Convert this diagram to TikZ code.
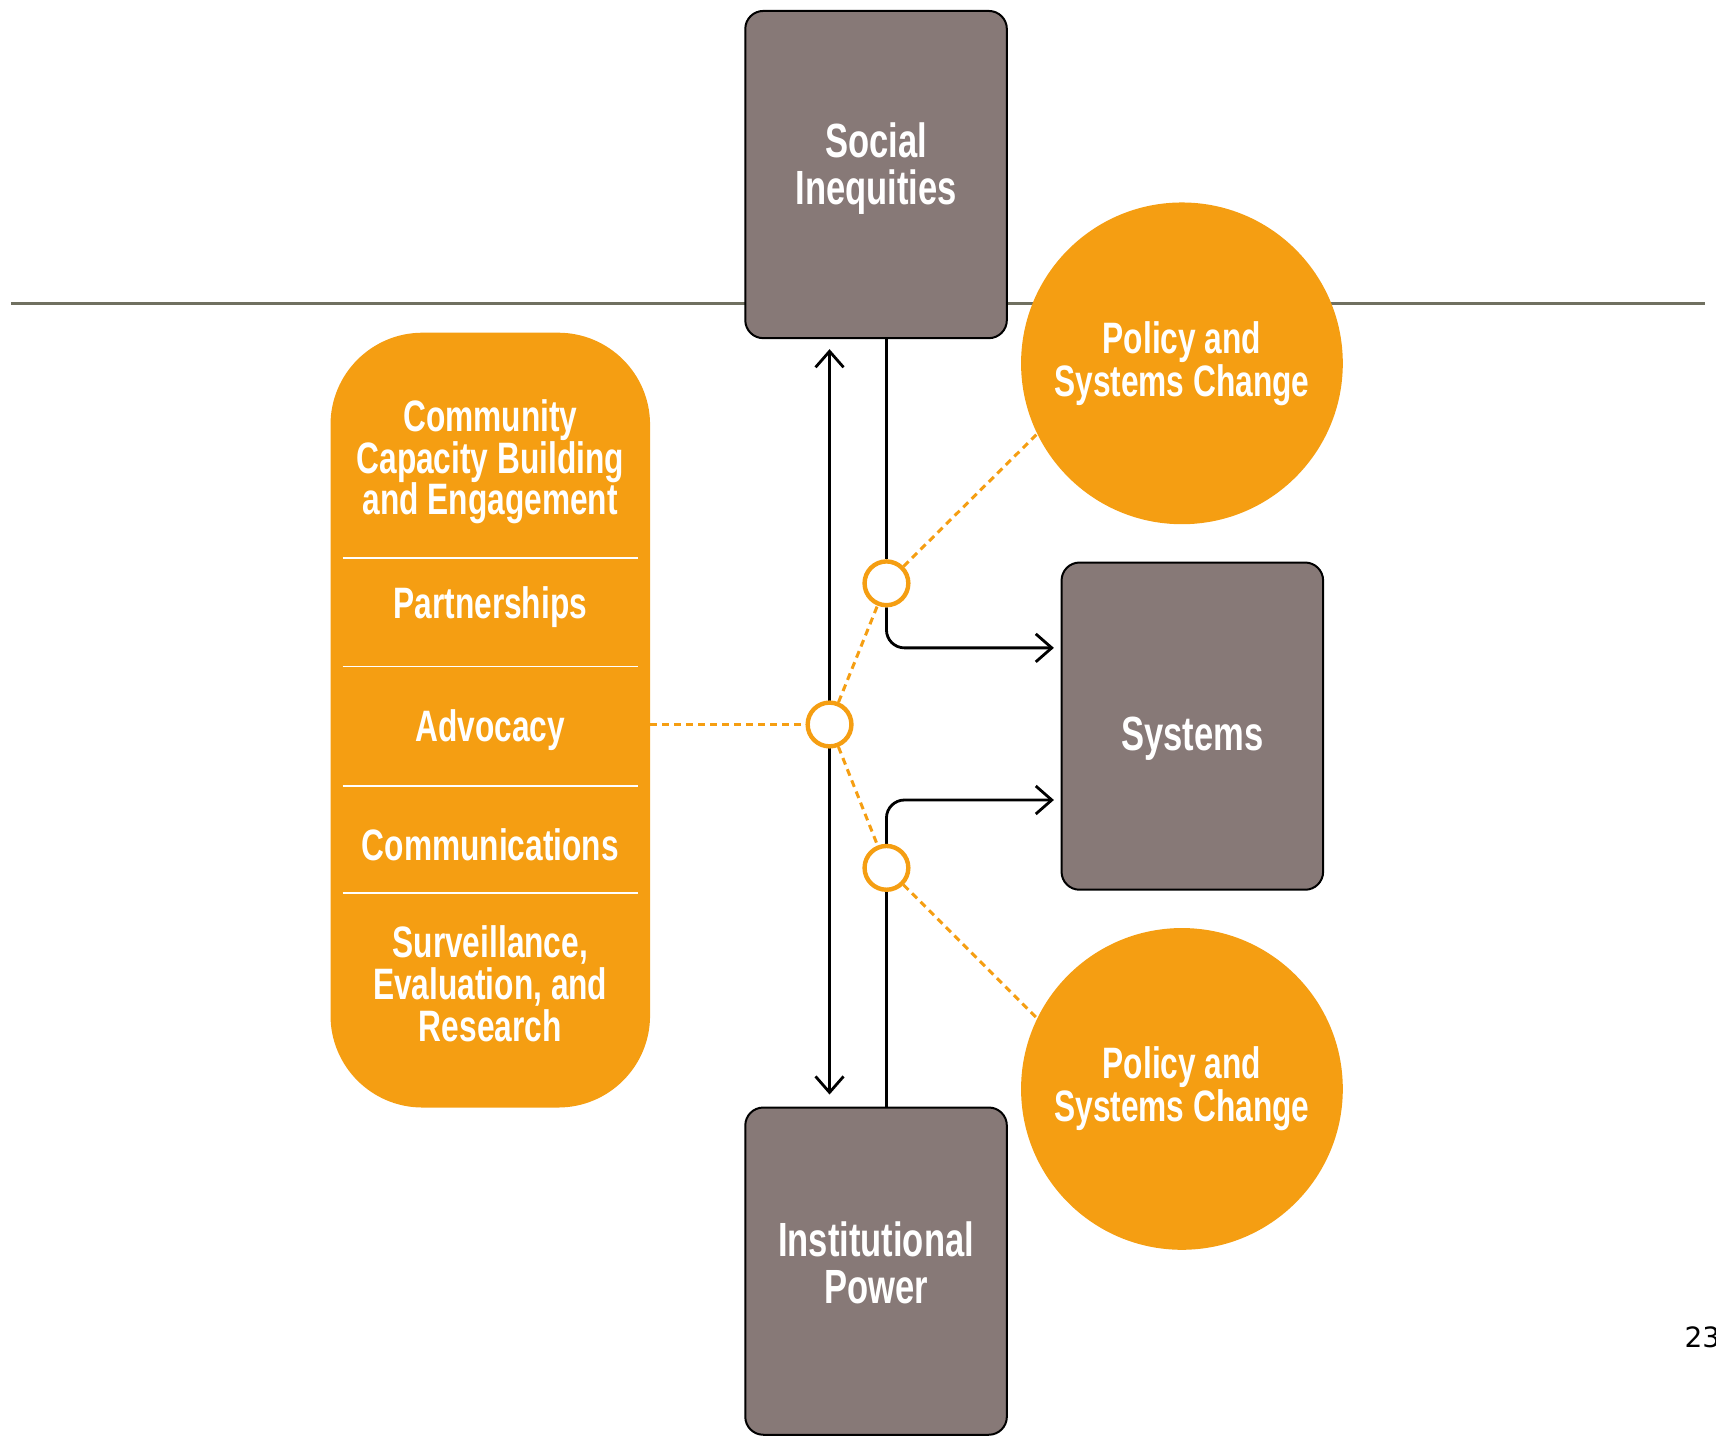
\documentclass[tikz,border=0pt]{standalone}
\usepackage{fontspec}
\newfontfamily\cf[FakeStretch=0.72]{Liberation Sans}
\newfontfamily\pnf{DejaVu Sans}
\usetikzlibrary{arrows.meta,backgrounds}
\definecolor{orng}{RGB}{245,158,18}
\definecolor{taupe}{RGB}{135,121,119}
\definecolor{olive}{RGB}{112,112,96}
\begin{document}
\begin{tikzpicture}[x=0.5472pt,y=-0.5472pt,
  graybox/.style={draw=black,line width=1pt,fill=taupe,rounded corners=9pt,
    minimum width={239*0.5472pt},minimum height={299*0.5472pt},inner sep=0pt},
  graytxt/.style={text=white,font=\cf\bfseries\fontsize{24}{23.5}\selectfont,align=center,inner sep=0pt},
  orangetxt/.style={text=white,font=\cf\bfseries\fontsize{22}{20.8}\selectfont,align=center,inner sep=0pt},
  bigcirc/.style={circle,fill=orng,minimum size={294*0.5472pt},inner sep=0pt,
    text=white,font=\cf\bfseries\fontsize{22}{20.2}\selectfont,align=center},
  hub/.style={circle,draw=orng,line width=2.2pt,fill=white,minimum size={40*0.5472pt},inner sep=0pt},
  blk/.style={draw=black,line width=1.4pt},
  dots/.style={draw=orng,line width=1.5pt,dash pattern=on 3.5pt off 2.5pt},
  sep/.style={draw=white,line width=0.8pt}]
\useasboundingbox (0,0) rectangle (1568,1316);
% boxes
\node[graybox] (si) at (800.5,159.5) {};
\node[graytxt] (sit) at (800.5,154.5) {Social\\Inequities};
\node[graybox] (ip) at (800.5,1161.5) {};
\node[graytxt] (ipt) at (800.5,1153.5) {Institutional\\Power};
\node[graybox] (sys) at (1089.5,663.5) {};
\node[graytxt] (syst) at (1089.5,675) {Systems};
\node[bigcirc] (pc1) at (1080,332) {Policy and\\Systems Change};
\node[bigcirc] (pc2) at (1080,995) {Policy and\\Systems Change};
% orange list box
\node[fill=orng,rounded corners=46pt,minimum width={292*0.5472pt},minimum height={708*0.5472pt},inner sep=0pt] (ob) at (448,658) {};
\node[orangetxt] (t1) at (448,422) {Community\\Capacity Building\\and Engagement};
\node[orangetxt] (t2) at (448,555) {Partnerships};
\node[orangetxt] (t3) at (448,667) {Advocacy};
\node[orangetxt] (t4) at (448,772) {Communications};
\node[orangetxt] (t5) at (448,899) {Surveillance,\\Evaluation, and\\Research};
\draw[sep] (313,510) -- (583,510);
\draw[sep] (313,609) -- (583,609);
\draw[sep] (313,718) -- (583,718);
\draw[sep] (313,816) -- (583,816);
% hubs
\node[hub] (c1) at (810,533) {};
\node[hub] (c2) at (758,662) {};
\node[hub] (c3) at (810,793) {};
\coordinate (sysA) at (963,592);
\coordinate (sysB) at (963,731);
% page number
\node[anchor=west,inner sep=0pt,font=\pnf\fontsize{14}{16}\selectfont] (pg) at (1539,1222) {23};
\begin{scope}[on background layer]
\draw[draw=olive,line width=1.5pt] (10,277) coordinate (hl) -- (1558,277) coordinate (hr);
\draw[blk] (si.south -| c1) -- (c1);
\draw[blk,rounded corners=9pt,-{Straight Barb[length=8pt,width=14pt]}] (c1.south) |- (sysA);
\draw[blk] (ip.north -| c3) -- (c3);
\draw[blk,rounded corners=9pt,-{Straight Barb[length=8pt,width=14pt]}] (c3.north) |- (sysB);
\draw[blk,{Straight Barb[length=8pt,width=14pt]}-{Straight Barb[length=8pt,width=14pt]},shorten <=5pt,shorten >=6pt] (si.south -| c2) -- (ip.north -| c2);
\draw[dots] (ob.east |- c2) -- (c2);
\draw[dots] (c2) -- (c1);
\draw[dots] (c2) -- (c3);
\draw[dots] (c1) -- (pc1.206);
\draw[dots] (c3) -- (pc2.154);
\end{scope}
\end{tikzpicture}
\end{document}
